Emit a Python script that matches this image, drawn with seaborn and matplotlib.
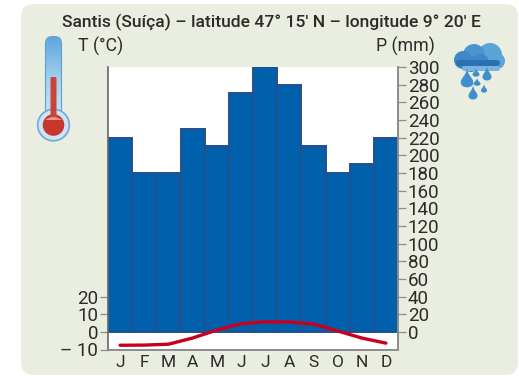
import numpy as np
import pandas as pd
import matplotlib
matplotlib.use("Agg")
import matplotlib.pyplot as plt
from matplotlib.patches import FancyBboxPatch, Circle, PathPatch
from matplotlib.path import Path
from matplotlib.colors import LinearSegmentedColormap
import seaborn as sns

months = ["J", "F", "M", "A", "M", "J", "J", "A", "S", "O", "N", "D"]
precip = [220, 180, 180, 230, 210, 270, 300, 280, 210, 180, 190, 220]
temp = [-7.6, -7.5, -7.0, -3.5, 1.0, 4.6, 5.6, 5.6, 4.4, 0.5, -3.5, -6.4]
p_ticks = list(range(0, 301, 20))
t_ticks = [-10, 0, 10, 20]
t_labels = ["– 10", "0", "10", "20"]
title = "Santis (Suíça) – latitude 47° 15' N – longitude 9° 20' E"

W, H = 519, 376
sns.set_theme(style="white")
plt.rcParams["font.family"] = ["Roboto", "DejaVu Sans"]
narrow = ["Liberation Sans Narrow", "Roboto", "DejaVu Sans"]
INK, GREY = "#2b2b2b", "#8c8c8c"

fig = plt.figure(figsize=(W / 100, H / 100), dpi=100, facecolor="white")

# overlay in pixel coordinates for panel, icons and headings
bg = fig.add_axes([0, 0, 1, 1], zorder=-1)
bg.set_xlim(0, W); bg.set_ylim(H, 0); bg.axis("off")
panel = FancyBboxPatch((33, 16), 473, 347, boxstyle="round,pad=12,rounding_size=13",
                       fc="#e9eee0", ec="#e9eee0", lw=0)
bg.add_patch(panel)

bg.text(271, 22, title, ha="center", va="center", fontsize=12.6, color=INK, fontweight="medium")
bg.text(78.5, 46, "T (°C)", ha="left", va="center", fontsize=12.8, color=INK)
bg.text(435, 46, "P (mm)", ha="right", va="center", fontsize=12.8, color=INK)

# thermometer icon
tube = FancyBboxPatch((49, 40), 9, 80, boxstyle="round,pad=3.5,rounding_size=7",
                      fc="none", ec="#5f9fd6", lw=0.8, zorder=2)
bg.add_patch(tube)
cm = LinearSegmentedColormap.from_list("t", ["#5fa6dc", "#a9d4ee", "#d5e8f3"])
im = bg.imshow(np.linspace(0, 1, 64)[:, None], cmap=cm, extent=(40, 68, 130, 36),
               aspect="auto", zorder=1)
im.set_clip_path(tube)
bg.set_xlim(0, W); bg.set_ylim(H, 0)
bg.add_patch(Circle((53.5, 125), 15.8, fc="#cfe3f2", ec="#6ea9dd", lw=1.2, zorder=2))
bg.add_patch(Circle((53.5, 125), 10.8, fc="#c8372d", ec="none", zorder=4))
bg.add_patch(FancyBboxPatch((50.5, 77), 6, 42, boxstyle="round,pad=0,rounding_size=1.5",
                            fc="#c8453a", ec="none", zorder=4))
bg.add_patch(PathPatch(Path([(45, 120), (53.5, 114), (62, 120)], [1, 3, 3]), fc="#e59a90", ec="none", zorder=5))

# rain cloud icon
def drop(cx, top, w, h, c="#3f8fd0"):
    v = [(cx, top), (cx + w * 0.15, top + h * 0.4), (cx + w, top + h * 0.5),
         (cx + w, top + h * 0.72), (cx + w, top + h * 1.05), (cx - w, top + h * 1.05),
         (cx - w, top + h * 0.72), (cx - w, top + h * 0.5), (cx - w * 0.15, top + h * 0.4), (cx, top)]
    bg.add_patch(PathPatch(Path(v, [1, 4, 4, 4, 4, 4, 4, 4, 4, 4]), fc=c, ec="none", zorder=5))

for cx, cy, r, c in [(490, 55, 12, "#5ba3d9"), (497, 61, 8, "#5ba3d9"), (482, 62, 8, "#5ba3d9"),
                     (474, 55, 11, "#4a94d0"), (463, 60, 9, "#3f88c8"), (481, 62, 8, "#3f88c8"),
                     (471, 64, 8, "#3f88c8")]:
    bg.add_patch(Circle((cx, cy), r, fc=c, ec="none", zorder=2))
bg.add_patch(FancyBboxPatch((456, 60), 44, 6, boxstyle="round,pad=0,rounding_size=3",
                            fc="#2872b4", ec="none", zorder=3))
bg.add_patch(FancyBboxPatch((462, 66), 38, 5, boxstyle="round,pad=0,rounding_size=2.5",
                            fc="#7ab4de", ec="none", zorder=3))
for args in [(467, 68, 6.3, 20), (476, 68, 3.5, 9), (487, 66, 4.5, 15), (477, 78, 3.5, 8),
             (473, 85, 4.5, 15), (484, 84, 3, 9)]:
    drop(*args)

# chart axes
x0, x1, y0, y1 = 108, 398, 67, 349.5
ax = fig.add_axes([x0 / W, 1 - y1 / H, (x1 - x0) / W, (y1 - y0) / H], facecolor="white")
ids = list(range(len(months)))
df = pd.DataFrame({"id": ids, "precip": precip, "temp": temp})
sns.barplot(data=df, x="id", y="precip", order=ids, width=1.0, color="#0060ac",
            saturation=1, edgecolor="#254f8f", linewidth=1.4, ax=ax)
ax.set_xlim(-0.5, 11.5)
ax.set_ylim(-20, 300)
ax.set_xlabel(""); ax.set_ylabel("")
ax.set_xticks(ids); ax.set_xticklabels(months, fontsize=12.5, color=INK, family=["Roboto"])
ax.tick_params(axis="x", length=0, pad=4)

tx = ax.twinx()
ax.yaxis.tick_right()
ax.set_yticks(p_ticks)
ax.set_yticklabels([str(v) for v in p_ticks], fontsize=13.5, color=INK, family=narrow)
ax.tick_params(axis="y", right=True, left=False, labelright=True, labelleft=False,
               length=5.5, width=0.9, color=GREY, pad=1.5)

tx.yaxis.tick_left()
tx.set_ylim(-10, 150)
sns.lineplot(data=df, x="id", y="temp", color="#c8001e", linewidth=2.4, ax=tx, errorbar=None)
tx.lines[0].set_solid_joinstyle("round")
tx.lines[0].set_solid_capstyle("round")
tx.set_xlabel(""); tx.set_ylabel("")
tx.set_yticks(t_ticks)
tx.set_yticklabels(t_labels, fontsize=13.5, color=INK, family=narrow)
tx.tick_params(axis="y", left=True, right=False, labelleft=True, labelright=False,
               length=5.5, width=0.9, color=GREY, pad=1.5)
tx.yaxis.set_label_position("left")
tx.set_xlim(-0.5, 11.5)

for a in (ax, tx):
    a.spines["top"].set_visible(False)
    for s in ("left", "right", "bottom"):
        a.spines[s].set_color(GREY)
        a.spines[s].set_linewidth(1.2)
ax.spines["left"].set_visible(False)
tx.spines["left"].set_color("#666666")

fig.savefig("out.png", dpi=100)
